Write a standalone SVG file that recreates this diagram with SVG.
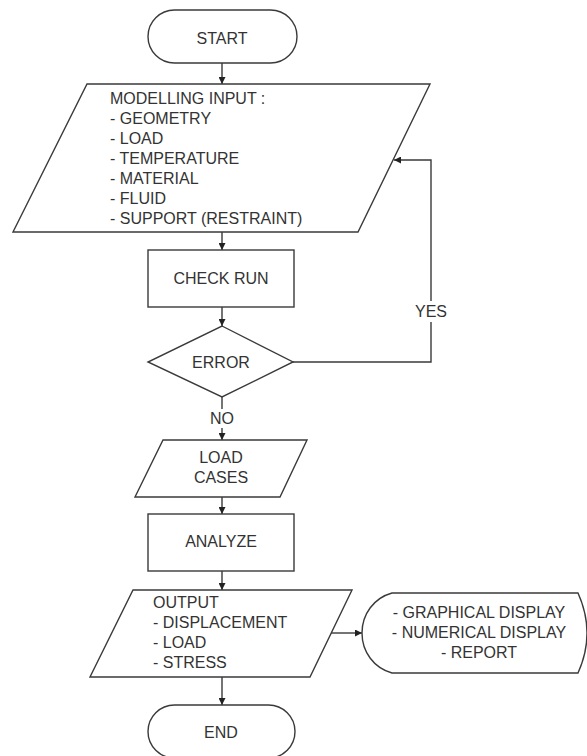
<svg xmlns="http://www.w3.org/2000/svg" width="587" height="756" viewBox="0 0 587 756">
<style>
.s{fill:#fff;stroke:#3a3a3a;stroke-width:1.4}
.c{fill:none;stroke:#3a3a3a;stroke-width:1.4}
text{font-family:"Liberation Sans",Arial,sans-serif;font-size:16px;fill:#333}
.m{text-anchor:middle}
</style>
<defs>
<marker id="ah" viewBox="0 0 10 10" refX="10" refY="5" markerWidth="7" markerHeight="7" markerUnits="userSpaceOnUse" orient="auto">
<path d="M0,0 L10,5 L0,10 z" fill="#222"/>
</marker>
</defs>
<rect width="587" height="756" fill="#fff"/>
<g id="connectors">
<line class="c" x1="222" y1="63" x2="222" y2="84" marker-end="url(#ah)"/>
<line class="c" x1="222" y1="232" x2="222" y2="250" marker-end="url(#ah)"/>
<line class="c" x1="222" y1="307" x2="222" y2="326" marker-end="url(#ah)"/>
<polyline class="c" points="293,362 431,362 431,160 394,160" marker-end="url(#ah)"/>
<line class="c" x1="222" y1="397" x2="222" y2="440" marker-end="url(#ah)"/>
<line class="c" x1="222" y1="497" x2="222" y2="514" marker-end="url(#ah)"/>
<line class="c" x1="222" y1="571" x2="222" y2="590" marker-end="url(#ah)"/>
<line class="c" x1="331" y1="633" x2="362" y2="633" marker-end="url(#ah)"/>
<line class="c" x1="222" y1="677" x2="222" y2="705" marker-end="url(#ah)"/>
<rect x="415" y="301" width="32" height="21" fill="#fff"/>
<text class="m" x="431" y="317">YES</text>
<rect x="207" y="409" width="30" height="19" fill="#fff"/>
<text class="m" x="222" y="424">NO</text>
</g>
<g id="start">
<rect class="s" x="148" y="10" width="149" height="53" rx="26.5"/>
<text class="m" x="222" y="44">START</text>
</g>
<g id="modelling-input">
<polygon class="s" points="87,84 430,84 358,232 13,232"/>
<text x="110" y="104">MODELLING INPUT :</text>
<text x="110" y="124">- GEOMETRY</text>
<text x="110" y="144">- LOAD</text>
<text x="110" y="164">- TEMPERATURE</text>
<text x="110" y="184">- MATERIAL</text>
<text x="110" y="204">- FLUID</text>
<text x="110" y="224">- SUPPORT (RESTRAINT)</text>
</g>
<g id="check-run">
<rect class="s" x="148" y="250" width="146" height="57"/>
<text class="m" x="221" y="284">CHECK RUN</text>
</g>
<g id="error">
<polygon class="s" points="222,326 293,362 222,397 148,362"/>
<text class="m" x="221" y="368">ERROR</text>
</g>
<g id="load-cases">
<polygon class="s" points="163,440 307,440 280,497 135,497"/>
<text class="m" x="221" y="463">LOAD</text>
<text class="m" x="221" y="483">CASES</text>
</g>
<g id="analyze">
<rect class="s" x="148" y="514" width="146" height="57"/>
<text class="m" x="221" y="547">ANALYZE</text>
</g>
<g id="output">
<polygon class="s" points="133,590 352,590 310,677 90,677"/>
<text x="153" y="608">OUTPUT</text>
<text x="153" y="628">- DISPLACEMENT</text>
<text x="153" y="648">- LOAD</text>
<text x="153" y="668">- STRESS</text>
</g>
<g id="display">
<path class="s" d="M392,593 L578,593 Q596,633 578,673 L392,673 C374,668 362,652 362,633 C362,614 374,598 392,593 z"/>
<text class="m" x="479" y="618">- GRAPHICAL DISPLAY</text>
<text class="m" x="479" y="638">- NUMERICAL DISPLAY</text>
<text class="m" x="479" y="658">- REPORT</text>
</g>
<g id="end">
<rect class="s" x="148" y="705" width="147" height="53" rx="26.5"/>
<text class="m" x="221" y="738">END</text>
</g>
</svg>
